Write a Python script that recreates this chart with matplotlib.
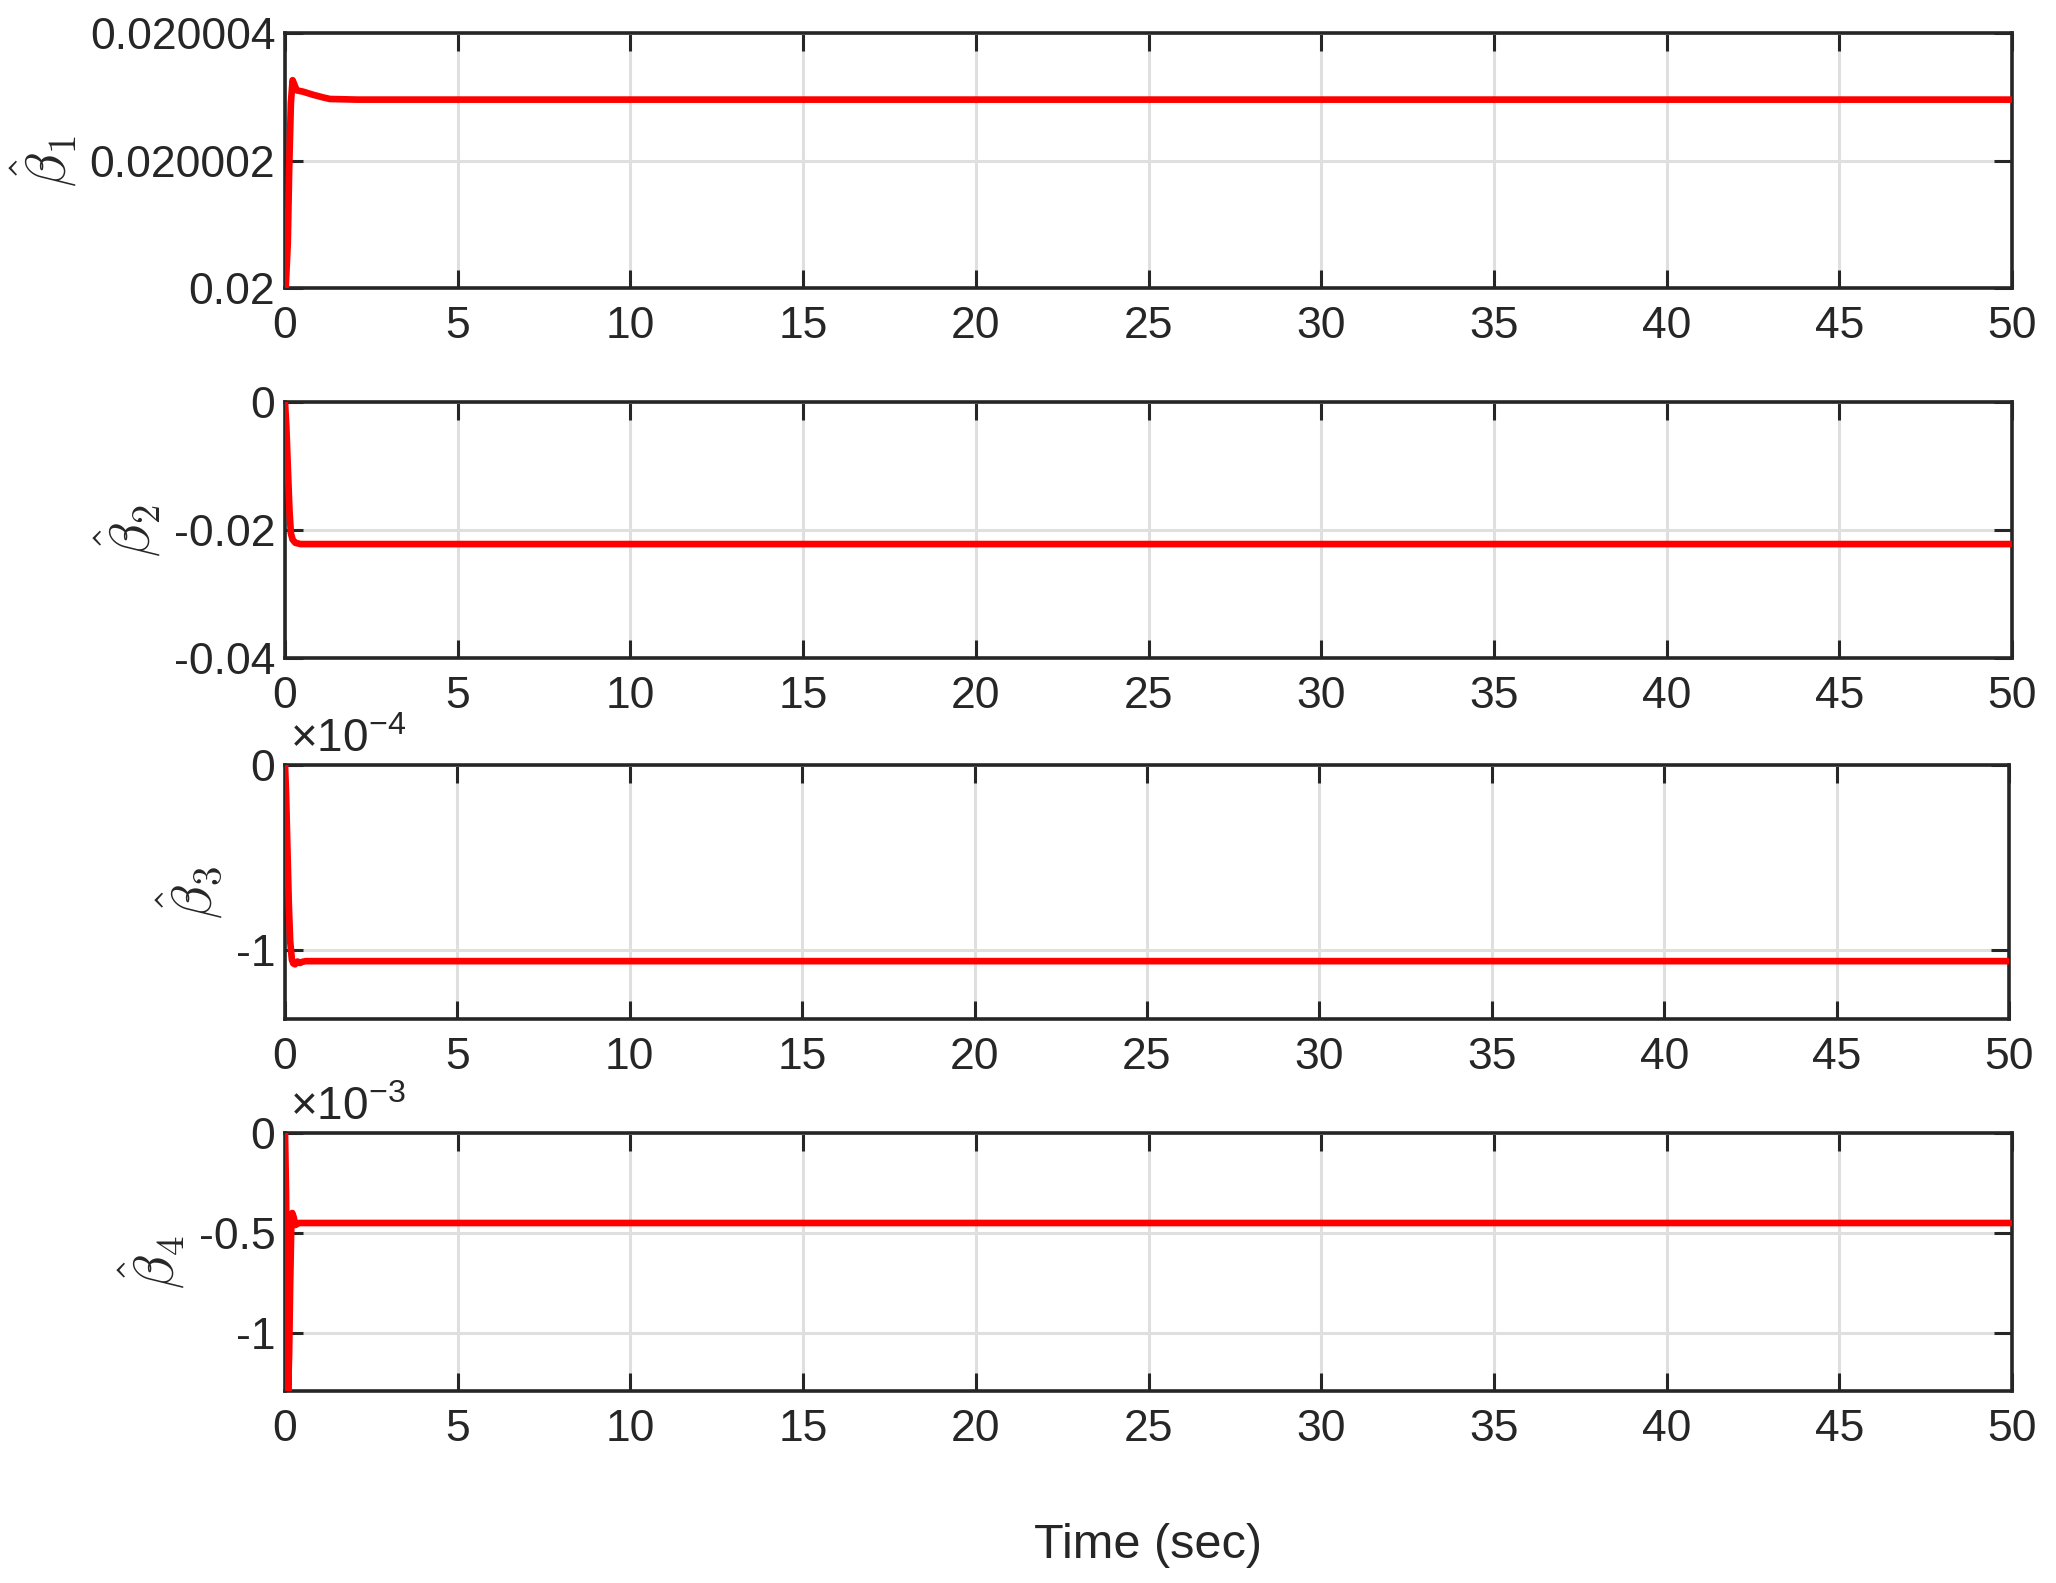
import matplotlib
matplotlib.use("Agg")
import matplotlib.pyplot as plt
import numpy as np

plt.rcParams['font.family'] = ['Liberation Sans', 'DejaVu Sans']
plt.rcParams['mathtext.fontset'] = 'custom'
plt.rcParams['mathtext.rm'] = 'Liberation Sans'
plt.rcParams['mathtext.it'] = 'Liberation Sans:italic'

dark = '#262626'

# beta_1 estimate: offset above 0.02, in units of 1e-6
t1 = [0, 0.02, 0.08, 0.12, 0.17, 0.22, 0.34, 0.52, 0.82, 1.1, 1.3, 2.1, 50]
b1 = [0, 0, 0.7, 1.85, 2.9, 3.26, 3.1, 3.08, 3.03, 2.99, 2.965, 2.955, 2.955]

# beta_2 estimate
t2 = [0, 0.04, 0.08, 0.13, 0.17, 0.22, 0.3, 0.45, 50]
b2 = [0, -0.004, -0.010, -0.017, -0.0205, -0.0215, -0.022, -0.0222, -0.0222]

# beta_3 estimate, units of 1e-4
t3 = [0, 0.03, 0.07, 0.11, 0.15, 0.2, 0.24, 0.29, 0.36, 0.43, 0.5, 0.6, 0.8, 50]
b3 = [0, -0.15, -0.45, -0.75, -0.95, -1.05, -1.07, -1.075, -1.06, -1.068,
      -1.062, -1.058, -1.058, -1.058]

# beta_4 estimate, units of 1e-3
t4 = [0, 0.03, 0.06, 0.09, 0.12, 0.15, 0.18, 0.21, 0.25, 0.3, 0.4, 50]
b4 = [0, -0.3, -0.9, -1.29, -1.1, -0.75, -0.48, -0.40, -0.42, -0.46, -0.45, -0.45]

xticks = list(range(0, 51, 5))

fig = plt.figure(figsize=(20.56, 15.83), dpi=100)
W, H = 2056, 1583
boxes = [(285, 2012, 33, 288), (285, 2012, 402, 658),
         (285, 2009, 765, 1019), (285, 2012, 1133, 1391)]
axes = []
for l, r, tp, bt in boxes:
    axes.append(fig.add_axes([l / W, 1 - bt / H, (r - l) / W, (bt - tp) / H]))

series = [
    (t1, 0.02 + np.array(b1) * 1e-6, (0.02, 0.020004),
     [0.02, 0.020002, 0.020004], ['0.02', '0.020002', '0.020004'], None),
    (t2, np.array(b2), (-0.04, 0),
     [-0.04, -0.02, 0], ['-0.04', '-0.02', '0'], None),
    (t3, np.array(b3), (-1.37, 0),
     [-1, 0], ['-1', '0'], r'$\times10^{-4}$'),
    (t4, np.array(b4), (-1.29, 0),
     [-1, -0.5, 0], ['-1', '-0.5', '0'], r'$\times10^{-3}$'),
]

for i, (ax, (t, y, ylim, yt, ytl, expo)) in enumerate(zip(axes, series)):
    ax.plot(t, y, color='#ff0000', lw=4.8, zorder=3, solid_joinstyle='round')
    ax.set_xlim(0, 50)
    ax.set_ylim(*ylim)
    ax.set_xticks(xticks)
    ax.set_yticks(yt)
    ax.set_yticklabels(ytl)
    ax.grid(True, color='#dfdfdf', lw=2.2)
    ax.set_axisbelow(True)
    ax.tick_params(direction='in', top=True, right=True, length=13, width=2.2,
                   labelsize=32, colors=dark)
    ax.tick_params(axis='x', pad=13)
    ax.tick_params(axis='y', pad=7)
    for sp in ax.spines.values():
        sp.set_linewidth(2.6)
        sp.set_color(dark)
    ax.set_ylabel(r'$\hat{\beta}_%d$' % (i + 1), fontsize=40, color=dark,
                  labelpad=8, math_fontfamily='cm')
    if expo:
        ax.text(0.003, 1.01, expo, transform=ax.transAxes, fontsize=33,
                color=dark, ha='left', va='bottom')

fig.text(1148 / W, 1 - 1545 / H, 'Time (sec)', fontsize=35, color=dark,
         ha='center', va='center')

fig.savefig('out.png', dpi=100)
